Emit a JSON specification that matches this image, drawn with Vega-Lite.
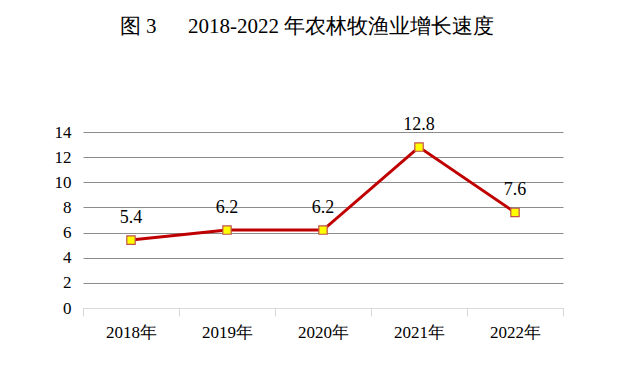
{
  "$schema": "https://vega.github.io/schema/vega-lite/v6.json",
  "autosize": "none",
  "width": 480,
  "height": 176,
  "padding": {"left": 83, "top": 132, "right": 62, "bottom": 65},
  "background": "white",
  "title": {
    "text": "图\u00a03\u00a0\u00a0\u00a0\u00a0\u00a0\u00a02018-2022\u00a0年农林牧渔业增长速度",
    "font": "Liberation Serif",
    "fontSize": 21,
    "fontWeight": "normal",
    "color": "black",
    "anchor": "middle",
    "frame": "group",
    "offset": 79,
    "dx": -16
  },
  "config": {
    "view": {"stroke": null},
    "font": "Liberation Serif"
  },
  "data": {
    "values": [
      {"year": "2018年", "value": 5.4},
      {"year": "2019年", "value": 6.2},
      {"year": "2020年", "value": 6.2},
      {"year": "2021年", "value": 12.8},
      {"year": "2022年", "value": 7.6}
    ]
  },
  "encoding": {
    "x": {
      "field": "year",
      "type": "ordinal",
      "scale": {"type": "band", "paddingInner": 0, "paddingOuter": 0},
      "axis": {
        "title": null,
        "labelAngle": 0,
        "labelFont": "Liberation Serif",
        "labelFontSize": 17,
        "labelColor": "black",
        "labelPadding": 8,
        "domainColor": "#d9d9d9",
        "tickColor": "#d9d9d9",
        "tickSize": 8,
        "tickBand": "extent",
        "zindex": 1,
        "grid": false
      }
    },
    "y": {
      "field": "value",
      "type": "quantitative",
      "scale": {"domain": [0, 14], "nice": false},
      "axis": {
        "title": null,
        "values": [0, 2, 4, 6, 8, 10, 12, 14],
        "labelFont": "Liberation Serif",
        "labelFontSize": 17,
        "labelColor": "black",
        "labelPadding": 12,
        "domain": false,
        "ticks": false,
        "gridColor": "#8c8c8c",
        "gridWidth": 1
      }
    }
  },
  "layer": [
    {
      "mark": {"type": "line", "color": "#C00000", "strokeWidth": 3}
    },
    {
      "mark": {"type": "point", "shape": "square", "filled": true, "size": 70, "color": "#FFFF00", "stroke": "#C0504D", "strokeWidth": 1.2, "opacity": 1}
    },
    {
      "mark": {"type": "text", "dy": -22, "fontSize": 18, "font": "Liberation Serif", "color": "black"},
      "encoding": {"text": {"field": "value", "type": "quantitative", "format": ".1f"}}
    }
  ]
}
